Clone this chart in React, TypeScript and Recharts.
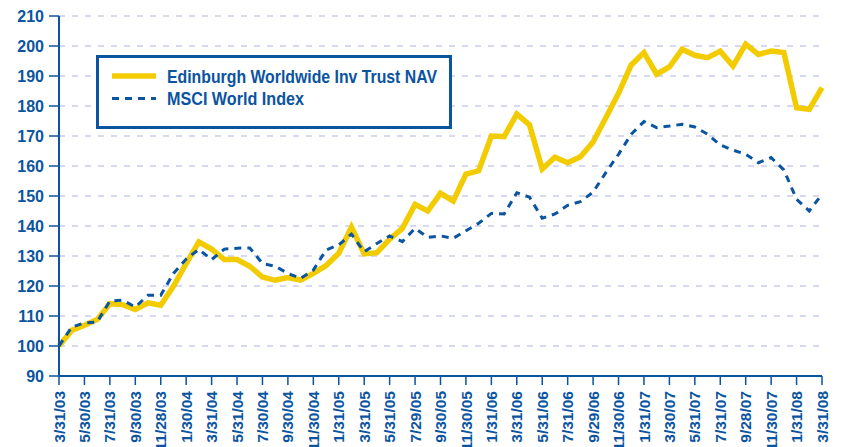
import React from "react";
import { LineChart, Line, XAxis, YAxis, CartesianGrid, Legend } from "recharts";

const BLUE = "#0b54a0";
const YELLOW = "#f2cc00";
const FONT = "'Liberation Sans', Arial, sans-serif";

// bi-monthly axis labels, one per second month starting 3/31/03
const tickLabels = [
	"3/31/03", "5/30/03", "7/31/03", "9/30/03", "11/28/03", "1/30/04",
	"3/31/04", "5/31/04", "7/30/04", "9/30/04", "11/30/04", "1/31/05",
	"3/31/05", "5/31/05", "7/29/05", "9/30/05", "11/30/05", "1/31/06",
	"3/31/06", "5/31/06", "7/31/06", "9/29/06", "11/30/06", "1/31/07",
	"3/30/07", "5/31/07", "7/31/07", "9/28/07", "11/30/07", "1/31/08",
	"3/31/08",
];

// monthly values, rebased to 100 at 3/31/03
const navValues = [
	100, 105.2, 106.9, 108.8, 114.1, 113.8, 112.2, 114.4, 113.6, 119.9,
	127.5, 134.7, 132.3, 128.8, 128.8, 126.6, 123, 121.9, 122.8, 122,
	124.2, 126.8, 130.9, 139.6, 130.7, 131.1, 135.6, 139.2, 147.2, 145,
	150.9, 148.3, 157.3, 158.4, 170, 169.8, 177.3, 173.7, 159, 162.9,
	161.1, 163.1, 168, 176.1, 184.2, 193.7, 197.8, 190.6, 193, 198.9,
	196.9, 196.1, 198.3, 193.3, 200.6, 197.2, 198.3, 197.8, 179.4, 178.9,
	186.1,
];

const msciValues = [
	100, 106.3, 107.7, 108, 115, 115.3, 113, 116.9, 116.9, 124.2,
	129, 132.2, 128.8, 132.3, 132.6, 132.7, 127.5, 126.6, 124.2, 122.5,
	125.3, 132, 133.7, 137.3, 131.4, 134.2, 136.7, 134.8, 139.2, 136.2,
	136.7, 135.9, 138.4, 140.9, 144.2, 144, 151.1, 149.6, 142.6, 144,
	146.9, 148.1, 151.3, 157.8, 163.9, 170.6, 174.8, 172.8, 173.3, 173.9,
	173, 170.6, 167, 165.3, 163.9, 161.1, 162.8, 158.7, 148.9, 145,
	150.6,
];

const yTicks = [90, 100, 110, 120, 130, 140, 150, 160, 170, 180, 190, 200, 210];

// legend text widths as measured on the original
const legendTextWidth: Record<string, number> = { nav: 270, msci: 137 };

const data = navValues.map((nav, i) => ({ month: i, nav, msci: msciValues[i] }));
const xTicks = tickLabels.map((_, i) => i * 2);

const DateTick = (props: any) => {
	const { x, y, payload } = props;
	const ty = y + 4;
	return (
		<text
			x={x}
			y={ty}
			dy="0.36em"
			transform={`rotate(-90, ${x}, ${ty})`}
			textAnchor="end"
			fill={BLUE}
			fontSize={15.5}
			fontWeight="bold"
			fontFamily={FONT}
		>
			{tickLabels[payload.value / 2]}
		</text>
	);
};

const LegendBox = (props: any) => {
	const items = props.payload || [];
	return (
		<svg width={356} height={74}>
			<rect x={1.5} y={1.5} width={353} height={71} fill="#fff" stroke={BLUE} strokeWidth={3} />
			{items.map((item: any, i: number) => {
				const cy = 21 + i * 22.5;
				const dashed = item.dataKey === "msci";
				return (
					<g key={item.value}>
						<line
							x1={16}
							x2={60}
							y1={cy}
							y2={cy}
							stroke={item.color}
							strokeWidth={dashed ? 3 : 5.5}
							strokeDasharray={dashed ? "7 6" : undefined}
						/>
						<text
							x={71}
							y={cy + 6.5}
							fill={BLUE}
							fontSize={17.5}
							fontWeight="bold"
							fontFamily={FONT}
							textLength={legendTextWidth[item.dataKey]}
							lengthAdjust="spacingAndGlyphs"
						>
							{item.value}
						</text>
					</g>
				);
			})}
		</svg>
	);
};

export default function App() {
	return (
		<div style={{ position: "absolute", left: 0, top: 0 }}>
			<LineChart width={844} height={447} data={data} margin={{ top: 16, right: 22, bottom: 0, left: 0 }}>
				<CartesianGrid vertical={false} stroke="#c9cdea" strokeDasharray="6 7" strokeWidth={1.5} />
				<XAxis
					dataKey="month"
					type="number"
					domain={[0, 60]}
					ticks={xTicks}
					interval={0}
					height={71}
					tick={<DateTick />}
					tickSize={9}
					axisLine={{ stroke: BLUE, strokeWidth: 2 }}
					tickLine={{ stroke: BLUE, strokeWidth: 1.5 }}
				/>
				<YAxis
					domain={[90, 210]}
					ticks={yTicks}
					interval={0}
					width={59}
					tickSize={10}
					tickMargin={5}
					tick={{ fill: BLUE, fontSize: 16, fontWeight: "bold", fontFamily: FONT }}
					axisLine={{ stroke: BLUE, strokeWidth: 2 }}
					tickLine={{ stroke: BLUE, strokeWidth: 1.5 }}
				/>
				<Legend
					layout="horizontal"
					verticalAlign="middle"
					content={<LegendBox />}
					wrapperStyle={{ left: 96, top: 55, width: "auto", height: "auto" }}
				/>
				<Line
					name="Edinburgh Worldwide Inv Trust NAV"
					dataKey="nav"
					stroke={YELLOW}
					strokeWidth={5.5}
					dot={false}
					activeDot={false}
					isAnimationActive={false}
				/>
				<Line
					name="MSCI World Index"
					dataKey="msci"
					stroke={BLUE}
					strokeWidth={3}
					strokeDasharray="7 6"
					dot={false}
					activeDot={false}
					isAnimationActive={false}
				/>
			</LineChart>
		</div>
	);
}
